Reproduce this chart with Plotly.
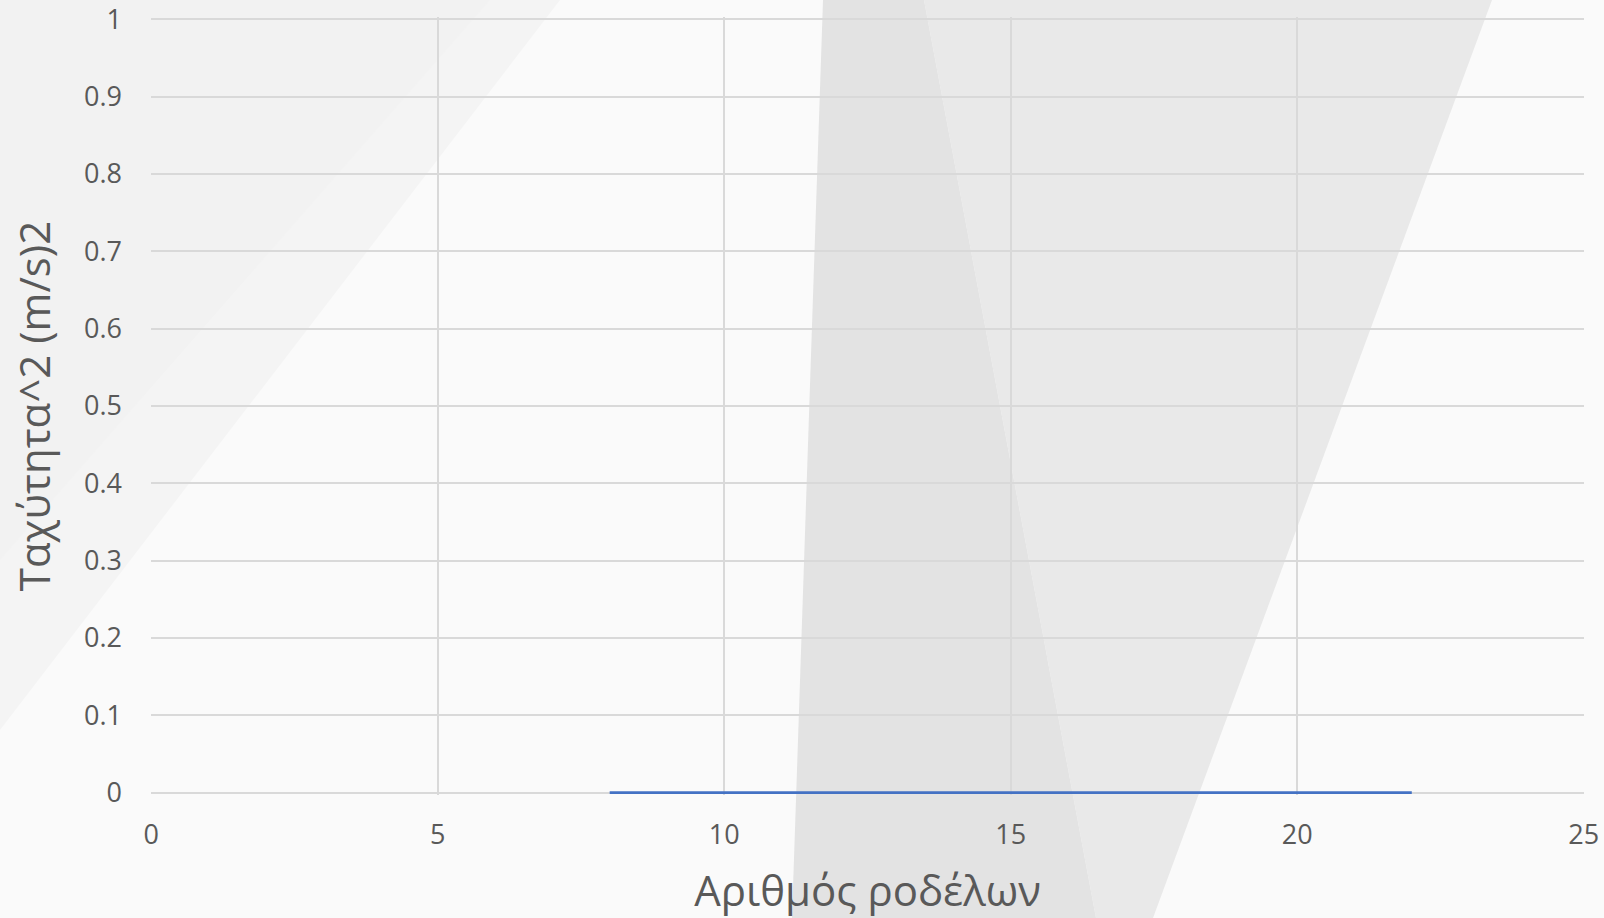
import plotly.graph_objects as go

# Data
x_vals = [8, 9, 10, 11, 12, 13, 14, 15, 16, 17, 18, 19, 20, 21, 22]
y_vals = [0, 0, 0, 0, 0, 0, 0, 0, 0, 0, 0, 0, 0, 0, 0]
x_ticks = [0, 5, 10, 15, 20, 25]
y_ticks = [0, 0.1, 0.2, 0.3, 0.4, 0.5, 0.6, 0.7, 0.8, 0.9, 1]
x_title = "Αριθμός ροδέλων"
y_title = "Ταχύτητα^2 (m/s)2"

W, H = 1604, 918
L, R, T, B = 151, 20, 17, 123
pw, ph = W - L - R, H - T - B

def px(x):
    return (x - L) / pw

def py(y):
    return (H - B - y) / ph

def poly(pts):
    return "M " + " L ".join(f"{px(a):.5f},{py(b):.5f}" for a, b in pts) + " Z"

shapes = []
def add(pts, color):
    shapes.append(dict(type="path", xref="paper", yref="paper", path=poly(pts),
                       fillcolor=color, line=dict(width=0), layer="below"))

# decorative background
add([(0, 0), (W, 0), (W, H), (0, H)], "#FAFAFA")
add([(0, 0), (560, 0), (0, 730)], "#F4F4F4")
add([(0, 0), (490, 0), (0, 560)], "#F2F2F2")
add([(924, 0), (1492, 0), (1153, H), (1096, H)], "#E9E9E9")
add([(823, 0), (924, 0), (1096, H), (792, H)], "#E3E3E3")

fig = go.Figure()
fig.add_trace(go.Scatter(x=x_vals, y=y_vals, mode="lines",
                         line=dict(color="#4472C4", width=2.75), showlegend=False))

font_family = "Open Sans, Noto Sans, sans-serif"
fig.update_layout(
    width=W, height=H,
    margin=dict(l=L, r=R, t=T, b=B, autoexpand=False),
    paper_bgcolor="#FAFAFA",
    plot_bgcolor="rgba(0,0,0,0)",
    shapes=shapes,
    showlegend=False,
    font=dict(family=font_family, color="#595959"),
)
fig.update_xaxes(
    range=[-0.006, 25.006], tickvals=x_ticks, ticktext=[str(v) for v in x_ticks],
    showgrid=True, gridcolor="#D9D9D9", gridwidth=2, automargin=False,
    zeroline=False, showline=False,
    layer="below traces",
    tickfont=dict(size=27, color="#595959"), ticklabelstandoff=21,
    ticklabeloverflow="allow",
    title=dict(text=x_title, font=dict(size=42, color="#595959"), standoff=31),
)
fig.update_yaxes(
    range=[-0.003, 1.003], tickvals=y_ticks, ticktext=[("%g" % v) for v in y_ticks],
    showgrid=True, gridcolor="#D9D9D9", gridwidth=2, automargin=False,
    zeroline=False, showline=False,
    layer="below traces",
    tickfont=dict(size=27, color="#595959"), ticklabelstandoff=28,
    ticklabeloverflow="allow",
    title=dict(text=y_title, font=dict(size=42, color="#595959"), standoff=20),
)

fig.write_html("out.html", config={"displayModeBar": False},
               post_script="document.body.style.margin='0';document.body.style.overflow='hidden';")
